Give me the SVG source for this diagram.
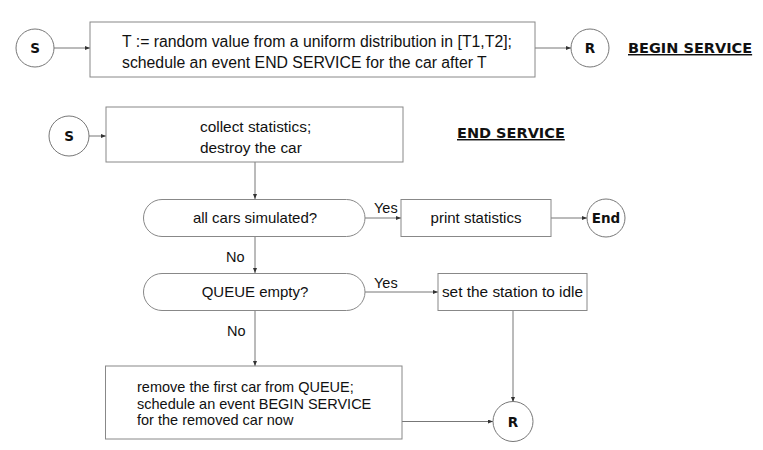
<svg xmlns="http://www.w3.org/2000/svg" width="763" height="450" viewBox="0 0 763 450">
<defs>
<marker id="ah" markerUnits="userSpaceOnUse" markerWidth="5" markerHeight="4" refX="5" refY="2" orient="auto">
<path d="M0,0 L5,2 L0,4 z" fill="#333"/>
</marker>
<style>
.box{fill:#fff;stroke:#888;stroke-width:1}
.circ{fill:#fff;stroke:#777;stroke-width:1}
.ln{fill:none;stroke:#777;stroke-width:1}
.ar{fill:none;stroke:#777;stroke-width:1;marker-end:url(#ah)}
.t{font-family:"Liberation Sans",Arial,sans-serif;font-size:15px;fill:#111}
.c{text-anchor:middle}
.b{font-family:"DejaVu Sans",sans-serif;font-weight:bold;font-size:13.5px;fill:#111;text-anchor:middle}
.h{font-family:"DejaVu Sans",sans-serif;font-weight:bold;font-size:14.5px;fill:#111;text-decoration:underline}
</style>
</defs>
<g id="connectors">
<line class="ar" x1="54" y1="48" x2="90" y2="48"/>
<line class="ar" x1="535" y1="48" x2="571" y2="48"/>
<line class="ar" x1="89" y1="136" x2="106" y2="136"/>
<line class="ar" x1="255" y1="162" x2="255" y2="199"/>
<line class="ar" x1="365" y1="218" x2="401" y2="218"/>
<line class="ar" x1="551" y1="218" x2="587" y2="218"/>
<line class="ar" x1="255" y1="237" x2="255" y2="273"/>
<line class="ar" x1="365" y1="292" x2="438" y2="292"/>
<line class="ar" x1="255" y1="310" x2="255" y2="366"/>
<line class="ar" x1="513" y1="310" x2="513" y2="402"/>
<line class="ar" x1="402" y1="421.5" x2="493" y2="421.5"/>
<text class="t" x="374" y="213" style="font-size:14.5px">Yes</text>
<text class="t" x="226" y="262" style="font-size:14.5px">No</text>
<text class="t" x="374" y="288" style="font-size:14.5px">Yes</text>
<text class="t" x="227" y="336" style="font-size:14.5px">No</text>
</g>
<g id="s1">
<circle class="circ" cx="35" cy="48" r="19"/>
<text class="b" x="35" y="53">S</text>
</g>
<g id="begin-box">
<rect class="box" x="90" y="22" width="445" height="55"/>
<text class="t" x="122" y="47" style="font-size:15.8px">T := random value from a uniform distribution in [T1,T2];</text>
<text class="t" x="122" y="68" style="font-size:15.8px">schedule an event END SERVICE for the car after T</text>
</g>
<g id="r1">
<circle class="circ" cx="590" cy="48" r="19"/>
<text class="b" x="590" y="53">R</text>
</g>
<g id="title-begin">
<text class="h" x="628" y="53">BEGIN SERVICE</text>
</g>
<g id="s2">
<circle class="circ" cx="69" cy="136" r="20"/>
<text class="b" x="69" y="141">S</text>
</g>
<g id="collect">
<rect class="box" x="106" y="107" width="297" height="55"/>
<text class="t" x="200" y="132" style="font-size:15.4px">collect statistics;</text>
<text class="t" x="200" y="153" style="font-size:15.4px">destroy the car</text>
</g>
<g id="title-end">
<text class="h" x="457" y="138">END SERVICE</text>
</g>
<g id="all-cars">
<rect class="box" x="143.5" y="199.5" width="221.5" height="37" rx="18.5"/>
<text class="t c" x="255" y="223">all cars simulated?</text>
</g>
<g id="print">
<rect class="box" x="401" y="199.5" width="150" height="37"/>
<text class="t c" x="476" y="223">print statistics</text>
</g>
<g id="end">
<circle class="circ" cx="606" cy="218" r="19"/>
<text class="b" x="606" y="223">End</text>
</g>
<g id="queue-empty">
<rect class="box" x="143.5" y="273.5" width="221.5" height="37" rx="18.5"/>
<text class="t c" x="255" y="297">QUEUE empty?</text>
</g>
<g id="idle">
<rect class="box" x="438" y="273.5" width="149" height="37"/>
<text class="t c" x="512.5" y="297" style="font-size:15.4px">set the station to idle</text>
</g>
<g id="remove">
<rect class="box" x="105.5" y="366" width="296.5" height="73"/>
<text class="t" x="137" y="392" style="font-size:14.5px">remove the first car from QUEUE;</text>
<text class="t" x="137" y="409" style="font-size:14.5px">schedule an event BEGIN SERVICE</text>
<text class="t" x="137" y="425" style="font-size:14.5px">for the removed car now</text>
</g>
<g id="r2">
<circle class="circ" cx="513" cy="421.5" r="20"/>
<text class="b" x="513" y="426.5">R</text>
</g>
</svg>
